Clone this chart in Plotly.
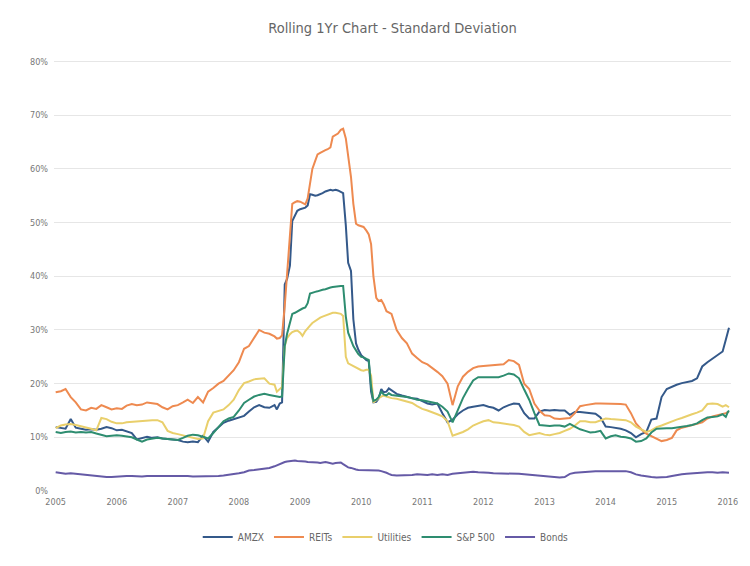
import plotly.graph_objects as go

dates = [
    "2005-01-01","2005-02-01","2005-03-01","2005-04-01","2005-05-01","2005-06-01","2005-07-01","2005-08-01","2005-09-01","2005-10-01","2005-11-01","2005-12-01",
    "2006-01-01","2006-02-01","2006-03-01","2006-04-01","2006-05-01","2006-06-01","2006-07-01","2006-08-01","2006-09-01","2006-10-01","2006-11-01","2006-12-01",
    "2007-01-01","2007-02-01","2007-03-01","2007-04-01","2007-05-01","2007-06-01","2007-07-01","2007-08-01","2007-09-01","2007-10-01","2007-11-01","2007-12-01",
    "2008-01-01","2008-02-01","2008-03-01","2008-04-01","2008-05-01","2008-06-01","2008-07-01",
    "2008-08-01","2008-08-15","2008-09-01","2008-09-15","2008-10-01","2008-10-15","2008-11-01","2008-11-15","2008-12-01","2008-12-15",
    "2009-01-01","2009-01-15","2009-02-01","2009-02-15","2009-03-01","2009-03-15","2009-04-01","2009-04-15","2009-05-01","2009-05-15","2009-06-01","2009-06-15",
    "2009-07-01","2009-07-15","2009-08-01","2009-08-15","2009-09-01","2009-09-15","2009-10-01","2009-10-15","2009-11-01","2009-11-15","2009-12-01","2009-12-15",
    "2010-01-01","2010-01-15","2010-02-01","2010-02-15","2010-03-01","2010-03-15","2010-04-01","2010-04-15","2010-05-01","2010-05-15","2010-06-01","2010-06-15",
    "2010-07-01","2010-08-01","2010-09-01","2010-10-01","2010-11-01","2010-12-01",
    "2011-01-01","2011-02-01","2011-03-01","2011-04-01","2011-05-01","2011-06-01","2011-07-01","2011-08-01","2011-09-01","2011-10-01","2011-11-01","2011-12-01",
    "2012-01-01","2012-02-01","2012-03-01","2012-04-01","2012-05-01","2012-06-01","2012-07-01","2012-08-01","2012-09-01","2012-10-01","2012-11-01","2012-12-01",
    "2013-01-01","2013-02-01","2013-03-01","2013-04-01","2013-05-01","2013-06-01","2013-07-01","2013-08-01","2013-09-01","2013-10-01","2013-11-01","2013-12-01",
    "2014-01-01","2014-02-01","2014-03-01","2014-04-01","2014-05-01","2014-06-01","2014-07-01","2014-08-01","2014-09-01","2014-10-01","2014-11-01","2014-12-01",
    "2015-01-01","2015-02-01","2015-03-01","2015-04-01","2015-05-01","2015-06-01","2015-07-01","2015-08-01","2015-09-01","2015-10-01","2015-11-01","2015-12-01",
    "2015-12-20","2016-01-01","2016-01-08",
]

amzx = [
    11.9, 11.8, 11.6, 13.4, 11.8, 11.6, 11.4, 11.5, 11.4, 11.6, 11.9, 11.7,
    11.3, 11.4, 11.1, 10.8, 9.6, 9.9, 10.1, 9.9, 10.0, 9.8, 9.7, 9.6,
    9.5, 9.2, 9.1, 9.2, 9.1, 10.3, 9.2, 11.0, 11.8, 12.7, 13.1, 13.4,
    13.6, 14.0, 14.8, 15.6, 16.0, 15.6, 15.5,
    16.0, 15.2, 16.3, 16.5, 38.5, 39.5, 42.0, 50.3, 51.5, 52.2,
    52.5, 52.7, 52.8, 53.2, 55.3, 55.2, 55.0, 55.1, 55.4, 55.5, 55.8, 56.0,
    56.1, 56.0, 56.1, 56.0, 55.8, 55.5, 49.5, 42.5, 41.0, 32.0, 27.5, 26.3,
    25.3, 24.9, 24.4, 24.2, 18.5, 16.5, 16.6, 17.2, 19.0, 18.4, 18.5, 19.1,
    18.8, 18.1, 17.8, 17.5, 17.3, 17.2,
    16.8, 16.3, 16.1, 16.3, 14.5, 12.8, 13.3, 14.3, 15.0, 15.5, 15.7, 15.9,
    16.0, 15.7, 15.5, 15.0, 15.6, 16.0, 16.3, 16.2, 14.5, 13.5, 13.5, 14.8,
    15.1, 15.0, 15.1, 15.0, 15.0, 14.2, 14.7, 14.7, 14.6, 14.5, 14.4, 13.7,
    12.0, 11.9, 11.8, 11.6, 11.3, 10.8, 10.0, 10.6, 11.0, 13.3, 13.5, 17.5,
    19.0, 19.5, 19.8, 20.1, 20.3, 20.5, 21.0, 23.2, 24.0, 24.7, 25.3, 26.0,
    28.2, 29.5, 30.4,
]

reits = [
    18.4, 18.6, 19.0, 17.5, 16.5, 15.2, 15.0, 15.5, 15.3, 16.0, 15.6, 15.2,
    15.4, 15.3, 15.9, 16.2, 16.0, 16.1, 16.5, 16.3, 16.2, 15.6, 15.2, 15.8,
    16.0, 16.5, 17.0, 16.4, 17.5, 16.5, 18.5, 19.2, 20.0, 20.5, 21.5, 22.5,
    24.0, 26.5, 27.0, 28.5, 30.0, 29.5, 29.3,
    28.8, 28.4, 28.5, 29.0, 34.5, 40.0, 47.5, 53.5, 53.8, 54.0,
    53.9, 53.6, 53.4, 54.5, 57.0, 60.0, 61.5, 62.7, 63.0, 63.3, 63.5, 63.7,
    64.0, 66.0, 66.4, 66.6, 67.3, 67.5, 65.7, 62.5, 58.5, 53.5, 49.8, 49.5,
    49.3, 49.2, 48.5, 47.8, 46.0, 40.0, 36.0, 35.4, 35.6, 34.8, 33.5, 33.2,
    33.0, 30.0, 28.5, 27.5, 25.6, 24.8,
    24.0, 23.6, 23.0, 22.2, 21.4, 20.0, 16.0, 19.5, 21.3, 22.2, 22.9, 23.2,
    23.3, 23.4, 23.4, 23.5, 23.6, 24.4, 24.2, 23.5, 20.0, 19.0, 16.3, 15.0,
    14.1, 14.0, 13.5, 13.4, 13.5, 13.6, 14.5, 15.8, 16.0, 16.2, 16.3, 16.3,
    16.3, 16.3, 16.2, 16.2, 16.1, 14.5, 12.6, 11.5, 10.7, 10.2, 9.8, 9.3,
    9.5, 9.9, 11.3, 11.8, 12.0, 12.2, 12.5, 12.8, 13.5, 13.9, 14.1, 14.3,
    14.5, 14.7, 14.8,
]

utilities = [
    11.7, 12.2, 12.4, 12.5, 12.3, 12.1, 11.8, 11.6, 11.3, 13.6, 13.4, 12.9,
    12.6, 12.6, 12.8, 12.9, 13.0, 13.1, 13.2, 13.2, 13.2, 12.8, 11.2, 10.8,
    10.6, 10.4, 10.2, 9.9, 9.7, 9.8, 13.0, 14.6, 14.9, 15.2, 16.0, 17.0,
    18.8, 20.1, 20.4, 20.8, 20.9, 21.0, 20.0,
    19.8, 18.5, 19.0, 19.4, 27.0, 28.5, 29.2, 29.6, 29.8, 29.9,
    29.5, 28.9, 29.8, 30.4, 30.8, 31.3, 31.7, 32.0, 32.3, 32.5, 32.7, 32.9,
    33.1, 33.2, 33.2, 33.1, 33.0, 32.6, 25.0, 23.8, 23.5, 23.2, 23.0, 22.7,
    22.5, 22.4, 22.6, 22.6, 21.5, 16.5, 17.0, 17.3, 17.6, 17.8, 17.6, 17.4,
    17.3, 17.2, 16.9, 16.6, 16.4, 15.8,
    15.3, 15.0, 14.6, 14.3, 13.9, 13.0, 10.3, 10.6, 11.0, 11.5, 12.2, 12.6,
    13.0, 13.2, 12.8, 12.7, 12.6, 12.5, 12.3, 12.0, 11.0, 10.4, 10.6, 10.8,
    10.5, 10.4, 10.6, 10.8, 11.2, 11.6, 12.2, 13.0, 13.0, 12.8, 12.8, 13.2,
    13.5, 13.4, 13.3, 13.2, 13.2, 12.8, 12.0, 11.5, 11.0, 11.3, 11.9, 12.2,
    12.6, 13.0, 13.3, 13.6, 14.0, 14.3, 14.6, 15.0, 16.2, 16.3, 16.2, 15.7,
    16.0, 15.7, 15.6,
]

sp500 = [
    11.0, 10.8, 11.0, 11.1, 10.9, 11.0, 10.9, 11.0, 10.7, 10.5, 10.2, 10.3,
    10.4, 10.3, 10.1, 10.0, 9.6, 9.2, 9.6, 9.8, 9.9, 9.8, 9.7, 9.6,
    9.5, 9.9, 10.3, 10.5, 10.4, 10.1, 9.8, 10.8, 12.0, 13.0, 13.5, 13.8,
    15.0, 16.4, 17.0, 17.6, 17.9, 18.1, 17.9,
    17.7, 17.6, 17.5, 17.6, 27.0, 29.3, 31.5, 33.0, 33.2, 33.5,
    33.7, 34.0, 34.2, 35.0, 36.8, 37.0, 37.1, 37.2, 37.4, 37.5, 37.6, 37.8,
    37.9, 38.0, 38.1, 38.2, 38.2, 38.2, 32.5, 29.5, 28.0, 27.0, 26.2, 25.5,
    25.0, 24.9, 24.6, 24.4, 19.5, 16.8, 17.0, 17.5, 18.5, 18.0, 17.8, 18.2,
    17.9, 17.8, 17.6, 17.5, 17.3, 17.0,
    16.9, 16.7, 16.5, 16.3, 15.7, 14.8, 12.8, 15.0, 17.3, 19.0, 20.6, 21.2,
    21.2, 21.2, 21.1, 21.2, 21.5, 21.9, 21.7, 21.0, 18.9, 17.0, 14.5, 12.3,
    12.2, 12.1, 12.2, 12.2, 12.0, 12.5, 12.0, 11.5, 11.2, 10.9, 11.0, 11.2,
    9.8, 10.2, 10.4, 10.1, 10.0, 9.8, 9.2, 9.3, 9.8, 10.9, 11.6, 11.7,
    11.7, 11.7, 11.8, 11.9, 12.1, 12.3, 12.6, 13.2, 13.7, 13.8, 13.9, 14.3,
    13.8, 14.7, 15.0,
]

bonds = [
    3.5, 3.3, 3.2, 3.3, 3.2, 3.0, 2.9, 2.8, 2.7, 2.7, 2.6, 2.6,
    2.7, 2.8, 2.8, 2.8, 2.7, 2.7, 2.8, 2.8, 2.8, 2.9, 2.8, 2.8,
    2.8, 2.8, 2.8, 2.7, 2.7, 2.7, 2.7, 2.8, 2.8, 2.9, 3.0, 3.2,
    3.3, 3.5, 3.8, 3.9, 4.0, 4.2, 4.3,
    4.6, 4.8, 5.0, 5.2, 5.4, 5.5, 5.6, 5.6, 5.7, 5.6,
    5.6, 5.5, 5.5, 5.4, 5.4, 5.3, 5.3, 5.3, 5.2, 5.3, 5.4, 5.3,
    5.2, 5.1, 5.2, 5.3, 5.3, 5.0, 4.6, 4.4, 4.3, 4.1, 4.0, 3.9,
    3.9, 3.8, 3.9, 3.8, 3.8, 3.8, 3.9, 3.8, 3.7, 3.6, 3.4, 3.2,
    3.0, 2.9, 2.9, 3.0, 3.0, 3.1,
    3.0, 3.0, 3.1, 3.0, 3.1, 3.0, 3.2, 3.3, 3.4, 3.5, 3.6, 3.5,
    3.5, 3.4, 3.3, 3.3, 3.2, 3.2, 3.3, 3.2, 3.1, 3.0, 2.9, 2.8,
    2.7, 2.6, 2.5, 2.5, 2.6, 3.2, 3.4, 3.5, 3.6, 3.6, 3.7, 3.7,
    3.7, 3.7, 3.8, 3.8, 3.7, 3.5, 3.1, 2.9, 2.7, 2.6, 2.5, 2.5,
    2.6, 2.8, 3.0, 3.1, 3.2, 3.3, 3.4, 3.4, 3.5, 3.5, 3.4, 3.5,
    3.5, 3.5, 3.4,
]

series_names = ["AMZX", "REITs", "Utilities", "S&P 500", "Bonds"]
series_values = [amzx, reits, utilities, sp500, bonds]
series_colors = ["#34598a", "#ee8a50", "#e9cf6b", "#2e8d70", "#655aa6"]

year_ticks = [f"{y}-01-01" for y in range(2005, 2017)]
year_labels = [str(y) for y in range(2005, 2017)]

FONT = "Liberation Sans Narrow, DejaVu Sans Condensed, Arial Narrow, sans-serif"

fig = go.Figure()
for name, vals, col in zip(series_names, series_values, series_colors):
    fig.add_trace(go.Scatter(
        x=dates, y=vals, name=name, mode="lines",
        line=dict(color=col, width=2),
        hovertemplate="%{y:.1f}%<extra>" + name + "</extra>",
    ))

# page body has an 8px default margin, so the figure is sized to fit the window
fig.update_layout(
    width=742, height=558,
    paper_bgcolor="white", plot_bgcolor="white",
    margin=dict(l=46, r=16, t=52, b=75),
    font=dict(family=FONT, color="#777777", size=9),
    title=dict(text="Rolling 1Yr Chart - Standard Deviation",
               xref="paper", x=0.5, xanchor="center", y=0.964, yanchor="middle",
               font=dict(family=FONT, size=14.5, color="#666666")),
    showlegend=True,
    legend=dict(orientation="h", x=0.49, xanchor="center", y=-0.107, yanchor="middle",
                font=dict(family=FONT, size=10, color="#666666"),
                itemwidth=30, tracegroupgap=0),
    xaxis=dict(
        type="date",
        range=["2004-12-22", "2016-01-20"],
        tickvals=year_ticks, ticktext=year_labels,
        showgrid=False, zeroline=False, showline=False,
        ticks="", ticklabelstandoff=4,
        tickfont=dict(size=9, color="#777777"),
    ),
    yaxis=dict(
        range=[0, 80.3], dtick=10, tick0=0,
        ticksuffix="%",
        showgrid=True, gridcolor="#e6e6e6", gridwidth=1,
        zeroline=False, showline=False, ticks="", ticklabelstandoff=5,
        tickfont=dict(size=9, color="#777777"),
    ),
)

fig.write_html("out.html")
